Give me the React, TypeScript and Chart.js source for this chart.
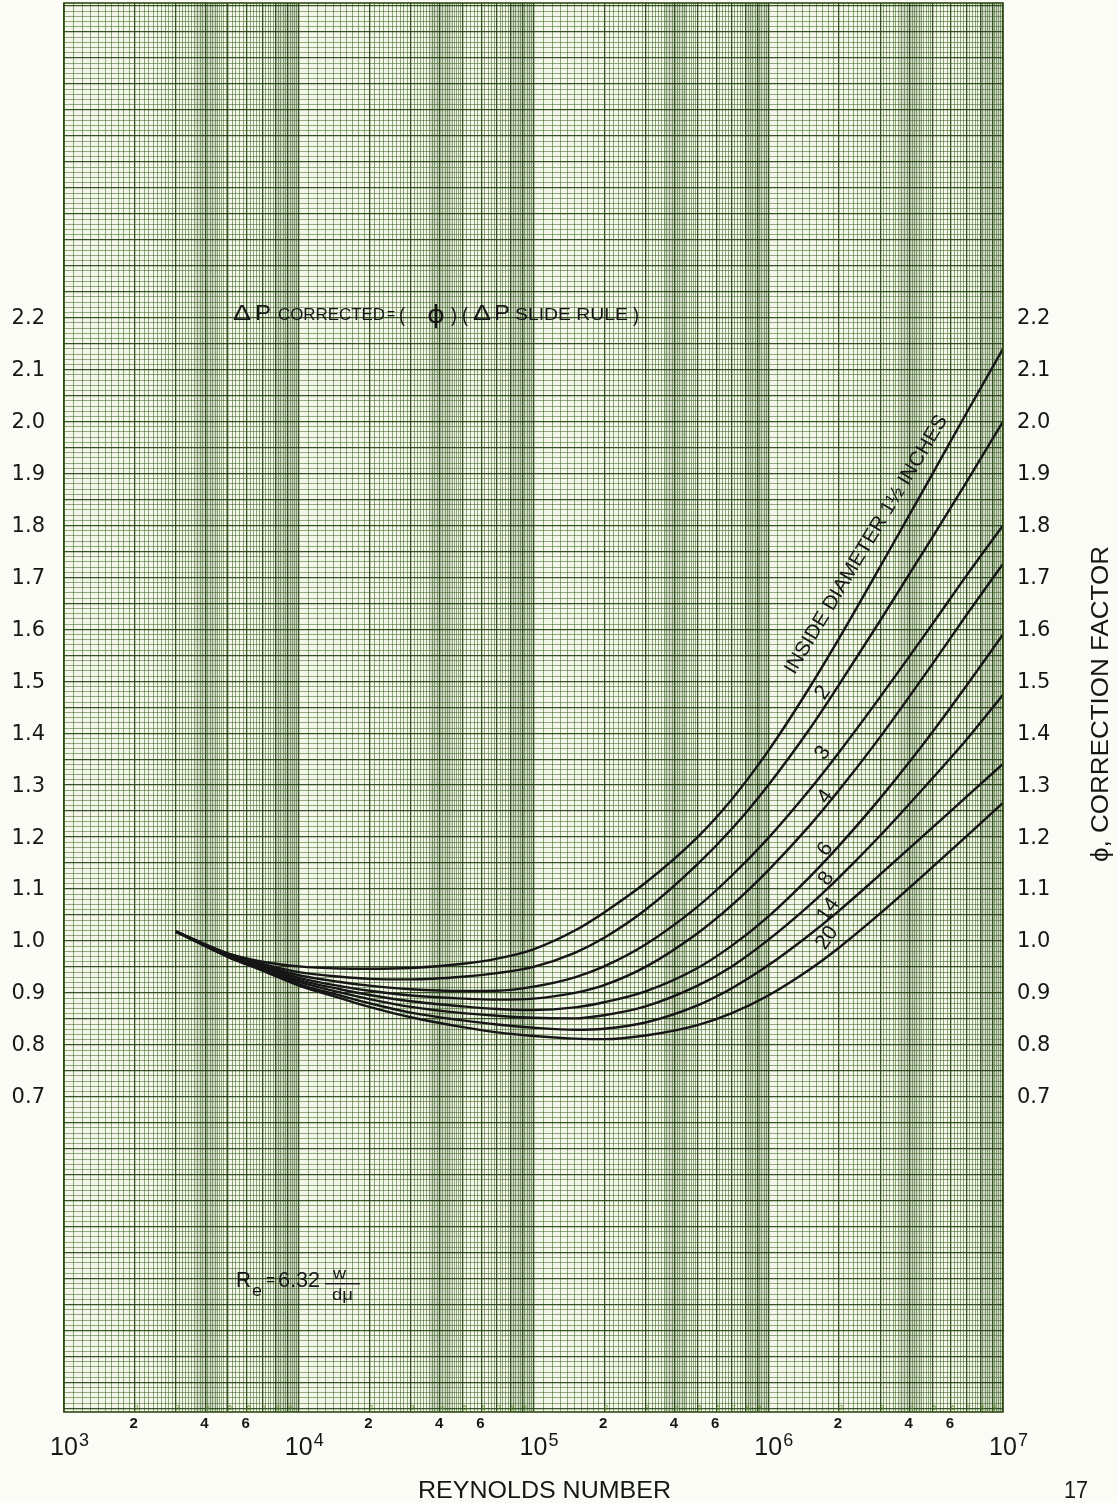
import React, { useEffect, useRef } from 'react';
import { Chart, registerables } from 'chart.js';

Chart.register(...registerables);

// ---------- data ----------
const reynolds = [3000, 5000, 7000, 1e4, 1.5e4, 2e4, 3e4, 5e4, 7e4, 1e5, 1.5e5, 2e5, 3e5, 5e5, 7e5, 1e6, 1.5e6, 2e6, 3e6, 5e6, 7e6, 1e7];

const phiD1_5 = [1.018, 0.976, 0.96, 0.951, 0.947, 0.9465, 0.948, 0.956, 0.966, 0.984, 1.02, 1.055, 1.112, 1.2, 1.273, 1.366, 1.488, 1.582, 1.721, 1.899, 2.017, 2.14];
const phiD2 = [1.018, 0.975, 0.956, 0.94, 0.931, 0.927, 0.926, 0.931, 0.938, 0.95, 0.977, 1.006, 1.06, 1.148, 1.216, 1.3, 1.408, 1.493, 1.617, 1.777, 1.884, 2.0];
const phiD3 = [1.018, 0.974, 0.953, 0.934, 0.921, 0.914, 0.907, 0.9035, 0.904, 0.912, 0.93, 0.951, 0.993, 1.066, 1.126, 1.198, 1.291, 1.363, 1.47, 1.61, 1.704, 1.8];
const phiD4 = [1.018, 0.973, 0.951, 0.929, 0.913, 0.904, 0.895, 0.889, 0.887, 0.889, 0.9, 0.915, 0.95, 1.015, 1.069, 1.136, 1.222, 1.29, 1.393, 1.533, 1.628, 1.726];
const phiD6 = [1.018, 0.972, 0.949, 0.925, 0.907, 0.896, 0.884, 0.874, 0.869, 0.867, 0.872, 0.882, 0.903, 0.948, 0.991, 1.047, 1.123, 1.183, 1.275, 1.402, 1.492, 1.59];
const phiD8 = [1.018, 0.971, 0.947, 0.921, 0.901, 0.888, 0.873, 0.861, 0.856, 0.852, 0.851, 0.857, 0.874, 0.914, 0.951, 1.002, 1.069, 1.122, 1.203, 1.313, 1.388, 1.474];
const phiD14 = [1.018, 0.97, 0.945, 0.917, 0.895, 0.88, 0.862, 0.847, 0.839, 0.833, 0.829, 0.831, 0.843, 0.876, 0.909, 0.953, 1.012, 1.058, 1.128, 1.218, 1.278, 1.341];
const phiD20 = [1.018, 0.969, 0.943, 0.914, 0.89, 0.873, 0.853, 0.834, 0.824, 0.817, 0.812, 0.811, 0.818, 0.838, 0.861, 0.895, 0.945, 0.987, 1.053, 1.142, 1.202, 1.266];

const curveSeries = [phiD1_5, phiD2, phiD3, phiD4, phiD6, phiD8, phiD14, phiD20];
const diameterNames = ['1½', '2', '3', '4', '6', '8', '14', '20'];

// label anchor points (Reynolds number, phi) for the curve labels
const curveLabelRe = [2.62e6, 1.71e6, 1.71e6, 1.75e6, 1.75e6, 1.77e6, 1.8e6, 1.78e6];
const curveLabelPhi = [1.763, 1.478, 1.362, 1.278, 1.177, 1.12, 1.06, 1.006];
const curveLabelText = ['INSIDE DIAMETER 1½ INCHES', '2', '3', '4', '6', '8', '14', '20'];

const yTickValues = [0.7, 0.8, 0.9, 1.0, 1.1, 1.2, 1.3, 1.4, 1.5, 1.6, 1.7, 1.8, 1.9, 2.0, 2.1, 2.2];
const yTickLabels = ['0.7', '0.8', '0.9', '1.0', '1.1', '1.2', '1.3', '1.4', '1.5', '1.6', '1.7', '1.8', '1.9', '2.0', '2.1', '2.2'];
const xDecadeExponents = [3, 4, 5, 6, 7];
const xMinorLabelMantissas = [2, 4, 6];
const paperDigitMantissas = [2, 3, 4, 5, 6, 7, 8, 9];

const X_MIN = 1e3;
const X_MAX = 1e7;
const Y_MIN = 0.093;
const Y_MAX = 2.806;

// ---------- grid helpers ----------
function buildXGrid(): number[] {
  const out: number[] = [];
  for (let d = 3; d < 7; d++) {
    const base = Math.pow(10, d);
    for (let k = 10; k < 50; k += 1) out.push((k / 10) * base);
    for (let k = 50; k < 100; k += 2) out.push((k / 10) * base);
  }
  out.push(1e7);
  return out;
}
function buildYGrid(): number[] {
  const out: number[] = [];
  for (let k = 10; k <= 280; k++) out.push(k / 100);
  return out;
}
function mantissa(v: number) {
  const e = Math.floor(Math.log10(v) + 1e-9);
  return v / Math.pow(10, e);
}

function fitText(ctx: CanvasRenderingContext2D, text: string, x: number, y: number, width: number, font: string, rot = 0) {
  ctx.save();
  ctx.font = font;
  const w = ctx.measureText(text).width;
  ctx.translate(x, y);
  if (rot) ctx.rotate(rot);
  ctx.scale(width / w, 1);
  ctx.textAlign = 'left';
  ctx.fillText(text, 0, 0);
  ctx.restore();
}

const INK = '#161616';
const SANS = '"Liberation Sans", "DejaVu Sans", sans-serif';
const DJ = '"DejaVu Sans", sans-serif';

const paperPlugin = {
  id: 'paper',
  beforeDraw(chart: any) {
    const { ctx, chartArea: a, scales } = chart;
    ctx.save();
    ctx.fillStyle = '#fcfcf7';
    ctx.fillRect(0, 0, chart.width, chart.height);
    ctx.fillStyle = '#f4f6ea';
    ctx.fillRect(a.left, a.top, a.right - a.left, a.bottom - a.top);
    ctx.fillStyle = 'rgba(118,126,100,0.24)';
    for (let d = 3; d < 7; d++) {
      const b = Math.pow(10, d);
      for (const [m0, m1] of [[3.6, 4.5], [8, 10]]) {
        const x0 = scales.x.getPixelForValue(m0 * b);
        const x1 = scales.x.getPixelForValue(m1 * b);
        ctx.fillRect(x0, a.top, x1 - x0, a.bottom - a.top);
      }
    }
    ctx.restore();
  },
  afterDraw(chart: any) {
    const { ctx, chartArea: a, scales } = chart;
    const sx = scales.x;
    const sy = scales.y;
    ctx.save();
    ctx.strokeStyle = '#2c4a12';
    ctx.lineWidth = 1.6;
    ctx.strokeRect(a.left, a.top, a.right - a.left, a.bottom - a.top);

    ctx.fillStyle = INK;
    // y labels on both sides
    ctx.font = `21px ${DJ}`;
    ctx.textBaseline = 'middle';
    yTickValues.forEach((v, i) => {
      const y = sy.getPixelForValue(v);
      ctx.textAlign = 'right';
      ctx.fillText(yTickLabels[i], a.left - 19, y + 1);
      ctx.textAlign = 'left';
      ctx.fillText(yTickLabels[i], a.right + 14, y + 1);
    });

    // x labels
    ctx.textBaseline = 'alphabetic';
    xDecadeExponents.forEach((e) => {
      const x = sx.getPixelForValue(Math.pow(10, e));
      ctx.font = `25px ${SANS}`;
      ctx.textAlign = 'center';
      const w = ctx.measureText('10').width;
      ctx.fillText('10', x, a.bottom + 43);
      ctx.font = `18px ${SANS}`;
      ctx.textAlign = 'left';
      ctx.fillText(String(e), x + w / 2 + 1, a.bottom + 34);
    });
    ctx.font = `bold 15px ${SANS}`;
    ctx.textAlign = 'center';
    for (let d = 3; d < 7; d++) {
      xMinorLabelMantissas.forEach((m) => {
        const x = sx.getPixelForValue(m * Math.pow(10, d));
        ctx.fillText(String(m), x - 1, a.bottom + 16);
      });
    }
    ctx.fillStyle = '#5f8f2c';
    ctx.font = `7px ${SANS}`;
    for (let d = 3; d < 7; d++) {
      paperDigitMantissas.forEach((m) => {
        const x = sx.getPixelForValue(m * Math.pow(10, d));
        ctx.fillText(String(m), x + 2, a.bottom - 2);
      });
    }

    ctx.fillStyle = INK;
    // axis titles
    fitText(ctx, 'REYNOLDS NUMBER', 418, 1498, 253, `23px ${SANS}`);
    fitText(ctx, '17', 1064, 1498, 24, `23px ${SANS}`);
    fitText(ctx, 'ϕ, CORRECTION FACTOR', 1108, 862, 316, `23px ${SANS}`, -Math.PI / 2);

    // formula at top
    const by = 320;
    fitText(ctx, 'Δ', 233, by, 18, `22px ${SANS}`);
    fitText(ctx, 'P', 255, by, 16, `22px ${SANS}`);
    fitText(ctx, 'CORRECTED', 278, by, 107, `16px ${SANS}`);
    fitText(ctx, '=', 387, by - 1, 8, `16px ${SANS}`);
    fitText(ctx, '(', 399, by + 2, 6, `21px ${SANS}`);
    fitText(ctx, 'ϕ', 427, by + 3, 18, `25px ${DJ}`);
    fitText(ctx, ')', 451, by + 2, 6, `21px ${SANS}`);
    fitText(ctx, '(', 462, by + 2, 6, `21px ${SANS}`);
    fitText(ctx, 'Δ', 473, by, 18, `22px ${SANS}`);
    fitText(ctx, 'P', 494, by, 16, `22px ${SANS}`);
    fitText(ctx, 'SLIDE RULE', 515, by, 113, `16px ${SANS}`);
    fitText(ctx, ')', 633, by + 2, 6, `21px ${SANS}`);

    // Reynolds formula
    fitText(ctx, 'R', 236, 1287, 15, `22px ${SANS}`);
    fitText(ctx, 'e', 252, 1296, 10, `17px ${SANS}`);
    fitText(ctx, '=', 266, 1285, 9, `16px ${SANS}`);
    fitText(ctx, '6.32', 278, 1287, 42, `22px ${SANS}`);
    fitText(ctx, 'w', 333, 1279, 13, `16px ${SANS}`);
    ctx.fillRect(325, 1283, 35, 1.4);
    fitText(ctx, 'dμ', 332, 1300, 21, `16px ${SANS}`);

    // curve labels
    curveLabelText.forEach((t, i) => {
      const x = sx.getPixelForValue(curveLabelRe[i]);
      const y = sy.getPixelForValue(curveLabelPhi[i]);
      ctx.save();
      ctx.translate(x, y);
      ctx.textAlign = 'center';
      ctx.textBaseline = 'middle';
      if (i === 0) {
        ctx.rotate((-59 * Math.PI) / 180);
        ctx.font = `20px ${SANS}`;
        const w = ctx.measureText(t).width;
        ctx.scale(298 / w, 1);
      } else {
        ctx.rotate((-55 * Math.PI) / 180);
        ctx.font = `21px ${SANS}`;
      }
      ctx.fillText(t, 0, 0);
      ctx.restore();
    });
    ctx.restore();
  },
};

const xGrid = buildXGrid();
const yGrid = buildYGrid();

export default function App() {
  const ref = useRef<HTMLCanvasElement | null>(null);
  useEffect(() => {
    document.body.style.margin = '0';
    const canvas = ref.current!;
    const chart = new Chart(canvas, {
      type: 'line',
      data: {
        datasets: curveSeries.map((vals, i) => ({
          label: diameterNames[i],
          data: reynolds.map((r, j) => ({ x: r, y: vals[j] })),
          borderColor: INK,
          borderWidth: 2.4,
          pointRadius: 0,
          fill: false,
          cubicInterpolationMode: 'monotone' as const,
        })),
      },
      options: {
        responsive: false,
        animation: false,
        devicePixelRatio: 1,
        layout: { padding: { left: 64, right: 114, top: 3, bottom: 91 } },
        plugins: { legend: { display: false }, tooltip: { enabled: false } },
        scales: {
          x: {
            type: 'logarithmic',
            min: X_MIN,
            max: X_MAX,
            afterBuildTicks: (s: any) => {
              s.ticks = xGrid.map((v) => ({ value: v }));
            },
            afterFit: (s: any) => {
              s.height = 0;
            },
            ticks: { display: false },
            border: { display: false },
            grid: {
              drawTicks: false,
              color: (c: any) => {
                const m = mantissa(c.tick.value);
                return Math.abs(m - Math.round(m)) < 1e-6 ? 'rgba(28,58,10,0.88)' : 'rgba(45,90,22,0.52)';
              },
              lineWidth: (c: any) => {
                const m = mantissa(c.tick.value);
                return Math.abs(m - Math.round(m)) < 1e-6 ? 1.3 : 1;
              },
            },
          },
          y: {
            type: 'linear',
            min: Y_MIN,
            max: Y_MAX,
            afterBuildTicks: (s: any) => {
              s.ticks = yGrid.map((v) => ({ value: v }));
            },
            afterFit: (s: any) => {
              s.width = 0;
            },
            ticks: { display: false },
            border: { display: false },
            grid: {
              drawTicks: false,
              color: (c: any) => {
                const k = Math.round(c.tick.value * 100);
                if (k % 5 === 0) return 'rgba(28,60,12,0.88)';
                return 'rgba(45,90,22,0.5)';
              },
              lineWidth: (c: any) => {
                const k = Math.round(c.tick.value * 100);
                return k % 5 === 0 ? 1.3 : 1;
              },
            },
          },
        },
      },
      plugins: [paperPlugin],
    });
    return () => chart.destroy();
  }, []);
  return <canvas ref={ref} width={1117} height={1503} style={{ display: 'block' }} />;
}
